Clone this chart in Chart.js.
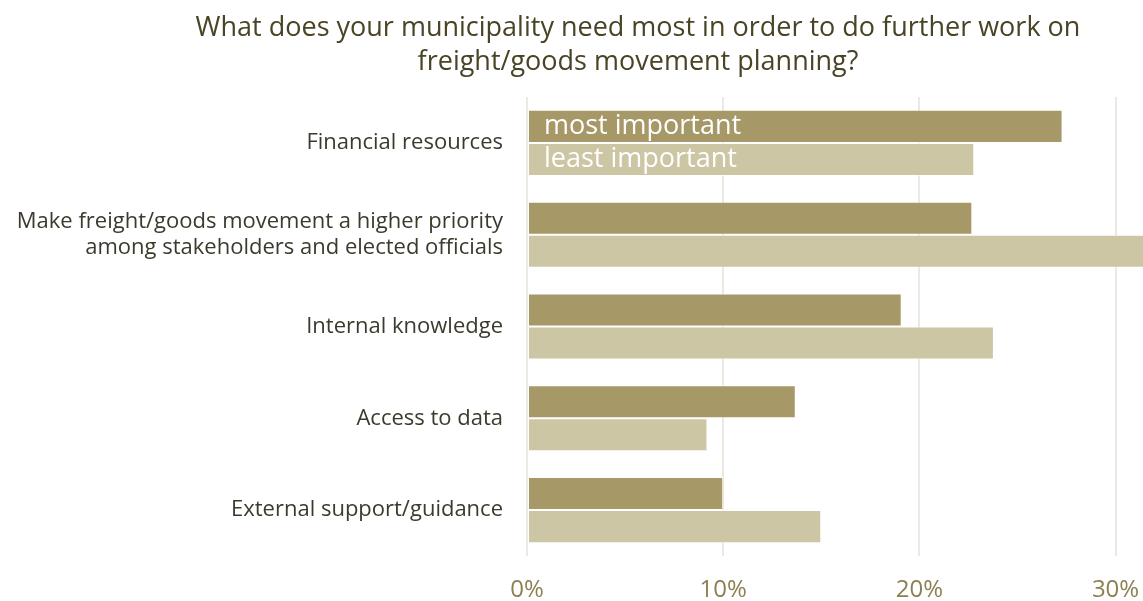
<!DOCTYPE html>
<html>
<head>
<meta charset="utf-8">
<script src="https://cdn.jsdelivr.net/npm/chart.js@4.4.1/dist/chart.umd.min.js"></script>
<style>
  html, body { margin: 0; padding: 0; background: #fff; }
  #wrap { width: 1143px; height: 601px; position: relative; }
</style>
</head>
<body>
<div id="wrap"><canvas id="myChart"></canvas></div>
<script>
// survey answers, share of respondents (%)
var categories = [
    "Financial resources",
    ["Make freight/goods movement a higher priority", "among stakeholders and elected officials"],
    "Internal knowledge",
    "Access to data",
    "External support/guidance"
];
var most_important = [27.3, 22.7, 19.1, 13.7, 10.0];
var least_important = [22.8, 31.8, 23.8, 9.2, 15.0];
var series_names = ["most important", "least important"];
var x_ticks = [0, 10, 20, 30];
var title_lines = [
    "What does your municipality need most in order to do further work on",
    "freight/goods movement planning?"
];

var FONT = "'Open Sans', 'DejaVu Sans', sans-serif";

// two-line title, centred a little right of the canvas middle
var titlePlugin = {
    id: "titleText",
    afterDraw: function(chart){
        var ctx = chart.ctx;
        ctx.save();
        ctx.fillStyle = "#4a4426";
        ctx.font = "27px " + FONT;
        ctx.textAlign = "center";
        ctx.textBaseline = "middle";
        var ys = [28, 62];
        for(let i=0; i<title_lines.length; i++){
            ctx.fillText(title_lines[i], 638, ys[i]);
        }
        ctx.restore();
    }
};

// series names written inside the first pair of bars
var barLabelPlugin = {
    id: "barLabels",
    afterDatasetsDraw: function(chart){
        var ctx = chart.ctx;
        ctx.save();
        ctx.fillStyle = "#ffffff";
        ctx.font = "27px " + FONT;
        ctx.textAlign = "left";
        ctx.textBaseline = "middle";
        chart.data.datasets.forEach(function(ds, i){
            var bar = chart.getDatasetMeta(i).data[0];
            ctx.fillText(ds.label, bar.base + 16, bar.y);
        });
        ctx.restore();
    }
};

var graph = new Chart("myChart", {
    type: "bar",
    data: {
        labels: categories,
        datasets: [{
            label: series_names[0],
            data: most_important,
            backgroundColor: "#a69867",
            borderColor: "rgba(255,255,255,0.5)",
            borderWidth: 1,
            borderSkipped: false
        }, {
            label: series_names[1],
            data: least_important,
            backgroundColor: "#ccc6a5",
            borderColor: "rgba(255,255,255,0.5)",
            borderWidth: 1,
            borderSkipped: false
        }]
    },
    options: {
        indexAxis: "y",
        responsive: true,
        maintainAspectRatio: false,
        animation: false,
        layout: {padding: {top: 97, right: 0, left: 0, bottom: 0}},
        datasets: {bar: {barPercentage: 1.0, categoryPercentage: 0.72}},
        plugins: {
            legend: {display: false},
            title: {display: false},
            tooltip: {enabled: false}
        },
        scales: {
            x: {
                min: 0,
                max: 31.4,
                afterFit: function(scale){
                    scale.height = 45;
                    scale.paddingLeft = 0;
                    scale.paddingRight = 0;
                },
                afterBuildTicks: function(scale){
                    scale.ticks = x_ticks.map(function(v){ return {value: v}; });
                },
                grid: {color: "#eee8e3", lineWidth: 2, drawTicks: false},
                border: {display: false},
                ticks: {
                    padding: 20,
                    color: "#8c7f50",
                    font: {family: FONT, size: 24},
                    maxRotation: 0,
                    callback: function(v){ return v + "%"; }
                }
            },
            y: {
                afterFit: function(scale){ scale.width = 527; },
                grid: {display: false, drawTicks: false},
                border: {display: false},
                ticks: {
                    padding: 24,
                    color: "#3c3a2d",
                    font: {family: FONT, size: 22, lineHeight: 1.14}
                }
            }
        }
    },
    plugins: [titlePlugin, barLabelPlugin]
});
</script>
</body>
</html>
